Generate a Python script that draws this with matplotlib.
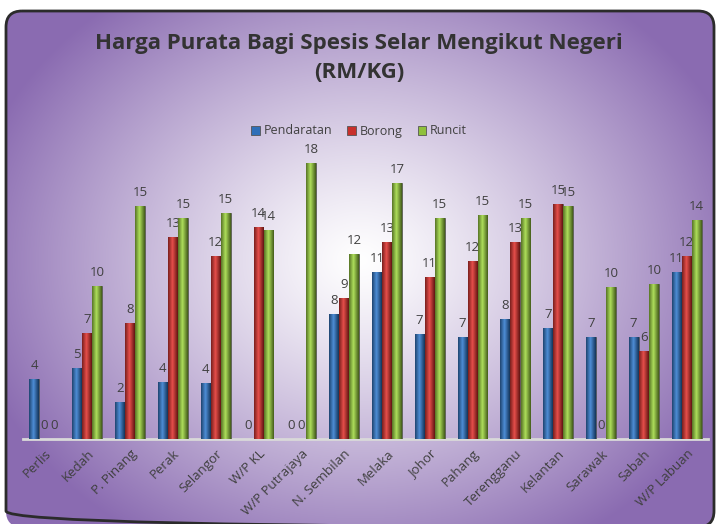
import numpy as np
import matplotlib
matplotlib.use("Agg")
import matplotlib.pyplot as plt
from matplotlib.patches import FancyBboxPatch
from matplotlib.colors import to_rgb

# data
negeri = ["Perlis", "Kedah", "P. Pinang", "Perak", "Selangor", "W/P KL",
          "W/P Putrajaya", "N. Sembilan", "Melaka", "Johor", "Pahang",
          "Terengganu", "Kelantan", "Sarawak", "Sabah", "W/P Labuan"]
pendaratan = [3.94, 4.70, 2.45, 3.78, 3.71, 0, 0, 8.22, 11.03, 6.94, 6.74, 7.89, 7.34, 6.74, 6.74, 11.03]
borong = [0, 6.97, 7.63, 13.34, 12.08, 14.00, 0, 9.31, 13.01, 10.66, 11.75, 13.01, 15.47, 0, 5.78, 12.08]
runcit = [0, 10.11, 15.38, 14.59, 14.92, 13.80, 18.21, 12.18, 16.86, 14.59, 14.79, 14.59, 15.34, 10.04, 10.24, 14.42]
siri = ["Pendaratan", "Borong", "Runcit"]
warna = ["#2f6fb8", "#c8302c", "#8fc03c"]

plt.rcParams['font.family'] = ['Open Sans', 'DejaVu Sans']
teks = "#404040"

fig = plt.figure(figsize=(7.18, 5.24), dpi=100)
fig.patch.set_facecolor("white")

# background with radial gradient inside rounded frame
bg = fig.add_axes([0, 0, 1, 1])
bg.set_xlim(0, 718)
bg.set_ylim(524, 0)
bg.axis("off")
yy, xx = np.mgrid[0:524, 0:718]
r = np.sqrt(((xx - 360) / 400.0) ** 2 + ((yy - 260) / 330.0) ** 2)
r = np.clip(r, 0, 1) ** 1.2
c0 = np.array([1.0, 1.0, 1.0])
c1 = np.array(to_rgb("#8a6bb1"))
img = c0[None, None, :] * (1 - r[..., None]) + c1[None, None, :] * r[..., None]
im = bg.imshow(img, extent=(0, 718, 524, 0), zorder=0)
frame = FancyBboxPatch((6, 11), 708, 516, boxstyle="round,pad=0,rounding_size=16",
                       facecolor="none", edgecolor="#2b2b2b", linewidth=2, zorder=2)
bg.add_patch(frame)
im.set_clip_path(frame)

fig.text(0.5, 1 - 44 / 524, "Harga Purata Bagi Spesis Selar Mengikut Negeri",
         ha="center", va="center", fontsize=16, fontweight="bold", color="#333333")
fig.text(0.5, 1 - 72 / 524, "(RM/KG)", ha="center", va="center",
         fontsize=16, fontweight="bold", color="#333333")

ax = fig.add_axes([23 / 718, 85 / 524, 685 / 718, 307 / 524])
ax.patch.set_alpha(0)
x = np.arange(len(negeri))
w = 0.235
data = [pendaratan, borong, runcit]
for i, (vals, col, nama) in enumerate(zip(data, warna, siri)):
    bars = ax.bar(x + (i - 1) * w, vals, w * 0.97, color=col, label=nama,
                  edgecolor="#555555", linewidth=0.6, zorder=3)
    # shading across each bar for a rounded look
    base = np.array(to_rgb(col))
    t = np.linspace(0, 1, 32)
    shade = 1 - 0.45 * np.abs(t - 0.45) * 2
    grad = np.clip(base[None, :] * shade[:, None] + 0.12 * (1 - np.abs(t - 0.45) * 2)[:, None], 0, 1)
    for b in bars:
        if b.get_height() <= 0:
            continue
        gi = ax.imshow(grad[None, :, :], extent=(b.get_x(), b.get_x() + b.get_width(), 0, b.get_height()),
                       aspect="auto", zorder=3.5)
        gi.set_clip_path(b)
    lbl = ["%.0f" % v for v in vals]
    ax.bar_label(bars, labels=lbl, padding=5, fontsize=9.5, color=teks)

ax.set_xlim(-0.5, len(negeri) - 0.5)
ax.set_ylim(0, 20.24)
for s in ["top", "right", "left"]:
    ax.spines[s].set_visible(False)
ax.spines["bottom"].set_color("#d9d9d9")
ax.spines["bottom"].set_linewidth(2)
ax.set_yticks([])
ax.set_xticks(x)
ax.set_xticklabels(negeri, rotation=45, ha="right", rotation_mode="anchor",
                   fontsize=9.5, color=teks)
ax.tick_params(axis="x", length=0, pad=6)

leg = ax.legend(loc="center", bbox_to_anchor=(359 / 718, 1 - 131 / 524),
                bbox_transform=fig.transFigure, ncol=3, frameon=False,
                fontsize=9, handlelength=0.7, handleheight=0.7,
                handletextpad=0.3, columnspacing=1.2, labelcolor=teks)

fig.savefig("out.png", dpi=100)
